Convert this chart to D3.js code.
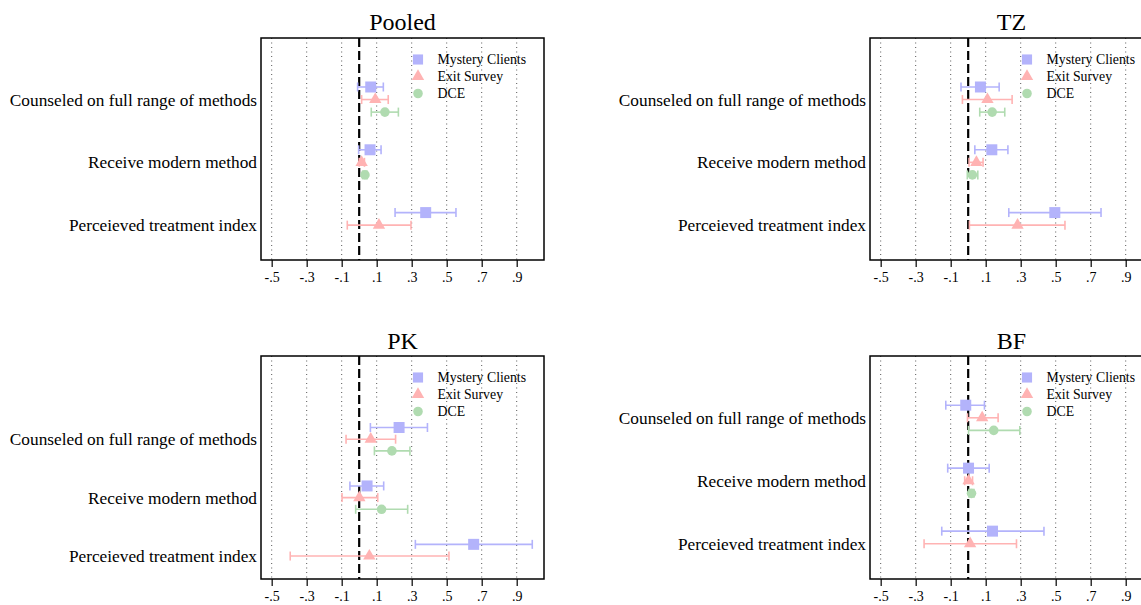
<!DOCTYPE html>
<html><head><meta charset="utf-8">
<script src="https://cdn.jsdelivr.net/npm/d3@7"></script>
<style>body{margin:0;background:#fff}svg{display:block;font-family:"Liberation Serif","Times New Roman",serif}</style>
</head><body>
<svg id="c" width="1141" height="605"></svg>
<script>
const categories = ["Counseled on full range of methods", "Receive modern method", "Perceieved treatment index"];
const seriesNames = ["Mystery Clients", "Exit Survey", "DCE"];
const xTicks = [-0.5, -0.3, -0.1, 0.1, 0.3, 0.5, 0.7, 0.9];
const xTickLabels = ["-.5", "-.3", "-.1", ".1", ".3", ".5", ".7", ".9"];
const panelNames = ["Pooled", "TZ", "PK", "BF"];

// [estimate, lower, upper] per category; null = not shown
const pooledMC  = [[0.066, -0.009, 0.138], [0.062, -0.003, 0.125], [0.380, 0.205, 0.553]];
const pooledES  = [[0.092, 0.014, 0.166], [0.014, 0.000, 0.030], [0.113, -0.068, 0.296]];
const pooledDCE = [[0.147, 0.069, 0.224], [0.033, 0.020, 0.045], null];

const tzMC  = [[0.070, -0.041, 0.177], [0.135, 0.038, 0.227], [0.495, 0.232, 0.759]];
const tzES  = [[0.110, -0.033, 0.251], [0.047, 0.005, 0.085], [0.282, 0.007, 0.553]];
const tzDCE = [[0.137, 0.066, 0.209], [0.024, -0.005, 0.055], null];

const pkMC  = [[0.228, 0.064, 0.390], [0.045, -0.053, 0.140], [0.654, 0.321, 0.989]];
const pkES  = [[0.066, -0.075, 0.208], [0.001, -0.098, 0.106], [0.058, -0.394, 0.513]];
const pkDCE = [[0.187, 0.087, 0.290], [0.128, -0.020, 0.277], null];

const bfMC  = [[-0.014, -0.128, 0.093], [0.002, -0.117, 0.120], [0.139, -0.151, 0.433]];
const bfES  = [[0.080, -0.004, 0.171], [0.002, -0.020, 0.025], [0.011, -0.252, 0.276]];
const bfDCE = [[0.146, 0.002, 0.295], [0.019, 0.005, 0.033], null];

const panelData = [
  [pooledMC, pooledES, pooledDCE],
  [tzMC, tzES, tzDCE],
  [pkMC, pkES, pkDCE],
  [bfMC, bfES, bfDCE]
];

const colors = ["#b3b3fb", "#ffb3b3", "#b0dbb0"];
const symbols = [d3.symbolSquare, d3.symbolTriangle, d3.symbolCircle];
const symSizes = [121, 66, 72];
const offsets = [-0.2, 0, 0.2];

const layout = [
  {left: 261, top: 38,  bottom: 260, ydom: [0.02, 3.555], titleY: 30},
  {left: 870, top: 38,  bottom: 260, ydom: [0.02, 3.555], titleY: 30},
  {left: 261, top: 356, bottom: 579, ydom: [-0.424, 3.393], titleY: 349},
  {left: 870, top: 356, bottom: 579, ydom: [0.019, 3.56], titleY: 349}
];
const boxW = 283;
const xDom = [-0.561, 1.056];

const svg = d3.select("#c");

panelNames.forEach((name, p) => {
  const L = layout[p];
  const g = svg.append("g");
  const x = d3.scaleLinear().domain(xDom).range([L.left, L.left + boxW]);
  const y = d3.scaleLinear().domain(L.ydom).range([L.top, L.bottom]);

  // title
  g.append("text").attr("x", L.left + boxW / 2).attr("y", L.titleY)
    .attr("text-anchor", "middle").attr("font-size", 24).attr("fill", "#000").text(name);

  // grid
  g.selectAll("line.grid").data(xTicks).enter().append("line")
    .attr("x1", d => x(d)).attr("x2", d => x(d))
    .attr("y1", L.top).attr("y2", L.bottom)
    .attr("stroke", "#555").attr("stroke-width", 1).attr("stroke-dasharray", "1,3.5");

  // zero line
  g.append("line").attr("x1", x(0)).attr("x2", x(0)).attr("y1", L.top).attr("y2", L.bottom)
    .attr("stroke", "#000").attr("stroke-width", 2.2).attr("stroke-dasharray", "9,4");

  // x axis
  const ax = d3.axisBottom(x).tickValues(xTicks).tickFormat((d, i) => xTickLabels[i]).tickSize(7).tickPadding(5);
  const axG = g.append("g").attr("transform", `translate(0,${L.bottom})`).call(ax);
  axG.select(".domain").remove();
  axG.selectAll("line").attr("stroke", "#000").attr("stroke-width", 1.2);
  axG.selectAll("text").attr("font-size", 14).attr("font-family", "Liberation Serif").attr("fill", "#000");

  // category labels
  g.selectAll("text.cat").data(categories).enter().append("text")
    .attr("x", L.left - 4).attr("y", (d, i) => y(i + 1) + 6)
    .attr("text-anchor", "end").attr("font-size", 17.3).attr("fill", "#000").text(d => d);

  // series
  panelData[p].forEach((ser, s) => {
    ser.forEach((v, i) => {
      if (!v) return;
      const yy = y(i + 1 + offsets[s]);
      const c = colors[s];
      g.append("line").attr("x1", x(v[1])).attr("x2", x(v[2])).attr("y1", yy).attr("y2", yy)
        .attr("stroke", c).attr("stroke-width", 1.6);
      [v[1], v[2]].forEach(e => {
        g.append("line").attr("x1", x(e)).attr("x2", x(e)).attr("y1", yy - 4.5).attr("y2", yy + 4.5)
          .attr("stroke", c).attr("stroke-width", 1.6);
      });
      g.append("path").attr("d", d3.symbol().type(symbols[s]).size(symSizes[s])())
        .attr("transform", `translate(${x(v[0])},${yy})`).attr("fill", c);
    });
  });

  // legend
  seriesNames.forEach((n, s) => {
    const ly = L.top + 21.5 + s * 17;
    g.append("path").attr("d", d3.symbol().type(symbols[s]).size(symSizes[s] * (s === 0 ? 0.85 : 1))())
      .attr("transform", `translate(${L.left + 157},${ly})`).attr("fill", colors[s]);
    g.append("text").attr("x", L.left + 176.5).attr("y", ly + 4.5)
      .attr("font-size", 13.8).attr("fill", "#000").text(n);
  });

  // box
  g.append("rect").attr("x", L.left).attr("y", L.top).attr("width", boxW).attr("height", L.bottom - L.top)
    .attr("fill", "none").attr("stroke", "#000").attr("stroke-width", 1.5);
});
</script>
</body></html>
